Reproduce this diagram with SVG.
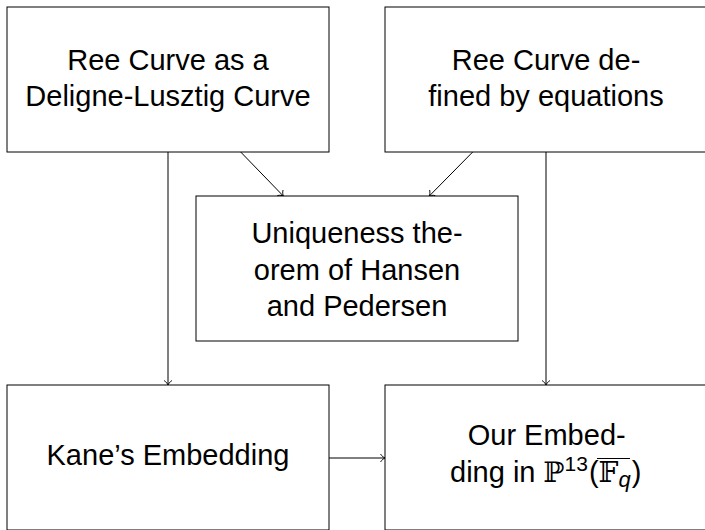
<svg xmlns="http://www.w3.org/2000/svg" width="705" height="530" viewBox="0 0 705 530">
<style>
.box{fill:#fff;stroke:#000;stroke-width:1}
.t{font-family:"Liberation Sans",Arial,sans-serif;font-size:29px;fill:#000;text-anchor:middle}
.m{font-family:"DejaVu Serif","DejaVu Sans",serif;font-size:28px}
.c{stroke:#000;stroke-width:1;fill:none;marker-end:url(#arr)}
</style>
<defs>
<marker id="arr" markerUnits="userSpaceOnUse" viewBox="-6 -5 7 10" refX="0" refY="0" markerWidth="7" markerHeight="10" orient="auto" overflow="visible">
<path d="M-4.5,-4 C-3,-1.5 -1,-0.5 0,0 C-1,0.5 -3,1.5 -4.5,4" fill="none" stroke="#000" stroke-width="0.9"/>
</marker>
</defs>
<rect width="705" height="530" fill="#fff"/>
<g id="connectors">
<line class="c" x1="168" y1="152" x2="168" y2="385"/>
<line class="c" x1="546" y1="152" x2="546" y2="385"/>
<line class="c" x1="240.7" y1="152" x2="283.3" y2="196"/>
<line class="c" x1="472.7" y1="152" x2="429.3" y2="196"/>
<line class="c" x1="329" y1="458" x2="385" y2="458"/>
</g>
<g id="ree-dl">
<rect class="box" x="7" y="7" width="322" height="145"/>
<text class="t" x="168" y="70">Ree Curve as a</text>
<text class="t" x="168" y="106">Deligne-Lusztig Curve</text>
</g>
<g id="ree-eq">
<rect class="box" x="385" y="7" width="322" height="145"/>
<text class="t" x="546" y="70">Ree Curve de-</text>
<text class="t" x="546" y="106">fined by equations</text>
</g>
<g id="uniqueness">
<rect class="box" x="196" y="196" width="322" height="145"/>
<text class="t" x="357" y="243">Uniqueness the-</text>
<text class="t" x="357" y="279.5">orem of Hansen</text>
<text class="t" x="357" y="316">and Pedersen</text>
</g>
<g id="kane">
<rect class="box" x="7" y="385" width="322" height="145"/>
<text class="t" x="168" y="465">Kane’s Embedding</text>
</g>
<g id="ours">
<rect class="box" x="385" y="385" width="322" height="145"/>
<text class="t" x="546.7" y="445">Our Embed-</text>
<text class="t" x="450" y="481.7" style="text-anchor:start">ding in <tspan class="m">ℙ</tspan><tspan style="font-size:21px" dy="-11">13</tspan><tspan dy="11" dx="1">(</tspan><tspan class="m">𝔽</tspan><tspan style="font-size:22px;font-style:italic" dy="5">q</tspan><tspan dy="-5" dx="1">)</tspan></text>
<line x1="597" y1="458.5" x2="630" y2="458.5" stroke="#000" stroke-width="1.2"/>
</g>
</svg>
